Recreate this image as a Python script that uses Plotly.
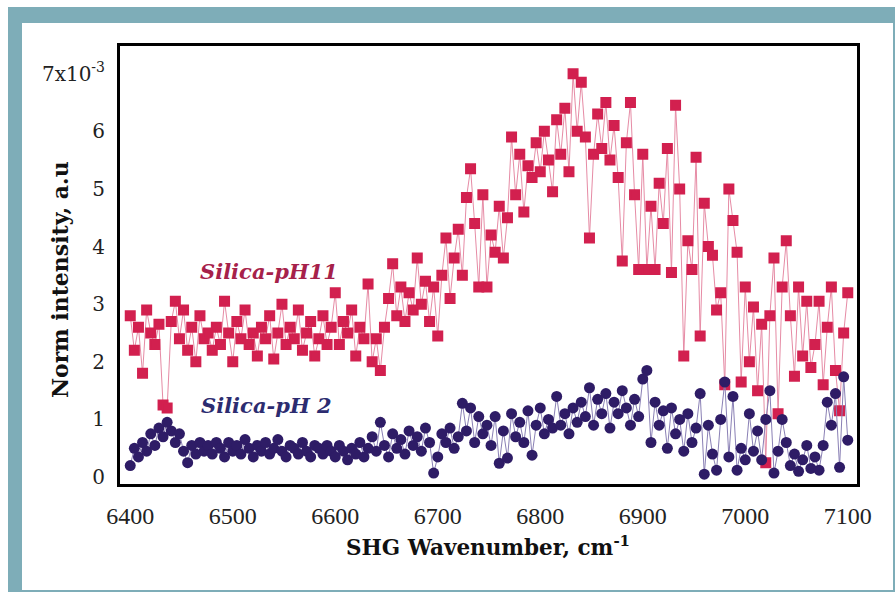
import plotly.graph_objects as go

# ---------------- data ----------------
wavenumber = list(range(6400, 7101, 4))

silica_ph11 = [
    2.8, 2.2, 2.6, 1.8, 2.9, 2.5, 2.3, 2.65, 1.25, 1.2,
    2.7, 3.05, 2.4, 2.9, 2.2, 2.6, 2.0, 2.8, 2.4, 2.5,
    2.2, 2.6, 2.3, 3.05, 2.5, 2.0, 2.7, 2.4, 2.9, 2.3,
    2.5, 2.1, 2.6, 2.4, 2.8, 2.05, 2.5, 3.0, 2.3, 2.6,
    2.4, 2.9, 2.2, 2.5, 2.7, 2.1, 2.4, 2.8, 2.3, 2.6,
    3.2, 2.3, 2.7, 2.5, 2.9, 2.1, 2.6, 2.4, 3.35, 2.0,
    2.4, 1.85, 2.6, 3.1, 3.7, 2.8, 3.3, 2.7, 3.2, 2.9,
    3.8, 3.0, 3.4, 2.7, 3.3, 2.45, 3.5, 4.15, 3.1, 3.8,
    4.3, 3.5, 4.85, 5.35, 4.4, 3.3, 4.9, 3.3, 4.2, 3.9,
    4.7, 3.8, 4.5, 5.9, 4.9, 5.6, 4.6, 5.4, 5.2, 5.8,
    5.3, 6.0, 5.5, 4.95, 6.2, 5.6, 6.4, 5.3, 7.0, 6.0,
    6.85, 5.9, 4.15, 5.6, 6.3, 5.7, 6.5, 5.5, 6.1, 5.2,
    3.75, 5.8, 6.5, 4.9, 3.6, 5.6, 3.6, 4.7, 3.6, 5.1,
    4.4, 5.7, 3.55, 6.45, 5.0, 2.1, 4.1, 3.6, 5.55, 2.45,
    4.75, 4.0, 3.85, 2.9, 3.2, 1.6, 5.0, 4.45, 3.9, 1.65,
    3.3, 2.0, 2.95, 1.5, 2.65, 0.25, 2.8, 3.8, 1.1, 3.3,
    4.1, 2.8, 1.75, 3.3, 2.1, 3.05, 1.9, 2.3, 3.05, 1.6,
    2.6, 3.3, 1.85, 1.15, 2.5, 3.2,
]

silica_ph2 = [
    0.2, 0.5, 0.35, 0.6, 0.45, 0.75, 0.55, 0.85, 0.7, 0.95,
    0.8, 0.6, 0.75, 0.45, 0.25, 0.55, 0.4, 0.6, 0.45, 0.55,
    0.4, 0.6, 0.5, 0.35, 0.6, 0.45, 0.55, 0.4, 0.65, 0.5,
    0.35, 0.55, 0.45, 0.6, 0.4, 0.5, 0.65, 0.45, 0.35, 0.55,
    0.5, 0.4, 0.6, 0.45, 0.35, 0.55, 0.5, 0.4, 0.55, 0.45,
    0.35, 0.55, 0.45, 0.3, 0.5, 0.4, 0.6, 0.35, 0.5, 0.7,
    0.45, 0.95, 0.55, 0.35, 0.75, 0.5, 0.65, 0.4, 0.8, 0.55,
    0.7, 0.45, 0.85, 0.6, 0.07, 0.35, 0.75, 0.6, 0.85, 0.5,
    0.7, 1.28, 0.8, 1.2, 0.6, 1.05, 0.75, 0.9, 0.55, 1.05,
    0.24, 0.8, 0.33, 1.1, 0.7, 0.95, 0.6, 1.15, 0.38, 0.9,
    1.2, 0.75, 1.0, 0.85, 1.4, 0.9, 1.1, 0.75, 1.2, 0.95,
    1.3, 1.05, 1.55, 0.9, 1.35, 1.1, 1.45, 0.85, 1.3, 1.1,
    1.5, 1.2, 0.9, 1.35, 1.05, 1.7, 1.85, 0.6, 1.3, 0.9,
    1.15, 0.5, 1.2, 0.75, 1.0, 0.45, 1.1, 0.6, 0.85, 1.45,
    0.05, 0.9, 0.4, 0.12, 1.0, 1.65, 0.35, 1.4, 0.12, 0.5,
    0.3, 1.1, 0.45, 0.8, 0.3, 1.0, 1.5, 0.07, 0.45, 1.0,
    0.6, 0.2, 0.4, 0.1, 0.3, 0.55, 0.15, 0.35, 0.12, 0.55,
    1.3, 0.9, 1.45, 0.17, 1.74, 0.64,
]

y_tick_values = [0, 1, 2, 3, 4, 5, 6, 7]
y_tick_labels = ["0", "1", "2", "3", "4", "5", "6", "7x10<sup>-3</sup>"]
x_tick_values = [6400, 6500, 6600, 6700, 6800, 6900, 7000, 7100]

# ---------------- layout constants ----------------
W, H = 895, 592
ML, MR, MT, MB = 120, 38, 46, 108
PW, PH = W - ML - MR, H - MT - MB


def px_x(p):
    return (p - ML) / PW


def px_y(p):
    return (H - MB - p) / PH


TEAL = "#7EADB8"

fig = go.Figure()

fig.add_trace(go.Scatter(
    x=wavenumber, y=silica_ph11, mode="lines+markers",
    line=dict(color="#E68BA5", width=1),
    marker=dict(symbol="square", size=9, color="#D2204F",
                line=dict(color="#D2204F", width=2)),
    showlegend=False, cliponaxis=True,
))
fig.add_trace(go.Scatter(
    x=wavenumber, y=silica_ph2, mode="lines+markers",
    line=dict(color="#8A80B5", width=1),
    marker=dict(symbol="circle", size=11, color="#2E1C66"),
    showlegend=False, cliponaxis=True,
))

fig.add_annotation(x=6535, y=3.56, text="<b><i>Silica-pH11</i></b>",
                   showarrow=False,
                   font=dict(family="DejaVu Serif", size=21, color="#A6214A"))
fig.add_annotation(x=6533, y=1.25, text="<b><i>Silica-pH 2</i></b>",
                   showarrow=False,
                   font=dict(family="DejaVu Serif", size=21, color="#2C2C70"))

# axis titles placed as annotations
fig.add_annotation(xref="paper", yref="paper", x=px_x(60), y=px_y(280),
                   text="<b>Norm intensity, a.u</b>", textangle=-90,
                   showarrow=False, xanchor="center", yanchor="middle",
                   font=dict(family="DejaVu Serif", size=22, color="#111"))
fig.add_annotation(xref="paper", yref="paper", x=px_x(488), y=px_y(546),
                   text="<b>SHG Wavenumber, cm<sup>-1</sup></b>",
                   showarrow=False, xanchor="center", yanchor="middle",
                   font=dict(family="DejaVu Serif", size=21.5, color="#111"))

# teal page frame
shapes = []
for (x0, y0, x1, y1) in [(8, 7, W, 23), (8, 7, 22, H), (8, 590, W, H), (893, 7, W, H)]:
    shapes.append(dict(type="rect", xref="paper", yref="paper",
                       x0=px_x(x0), x1=px_x(x1), y0=px_y(y1), y1=px_y(y0),
                       fillcolor=TEAL, line=dict(width=0), layer="below"))

fig.update_layout(
    width=W, height=H,
    margin=dict(l=ML, r=MR, t=MT, b=MB, autoexpand=False),
    paper_bgcolor="white", plot_bgcolor="white",
    shapes=shapes,
    xaxis=dict(
        range=[6390, 7109], tickvals=x_tick_values,
        showgrid=False, zeroline=False, automargin=False,
        showline=True, mirror=True, linecolor="black", linewidth=3,
        ticks="", ticklabelstandoff=8,
        tickfont=dict(family="Liberation Serif", size=24, color="#222"),
    ),
    yaxis=dict(
        range=[-0.12, 7.48], tickvals=y_tick_values, ticktext=y_tick_labels,
        showgrid=False, zeroline=False, automargin=False,
        showline=True, mirror=True, linecolor="black", linewidth=3,
        ticks="", ticklabelstandoff=8,
        tickfont=dict(family="DejaVu Serif", size=20, color="#222"),
    ),
)

fig.write_html(
    "out.html",
    config={"displayModeBar": False},
    post_script="document.body.style.margin='0';document.body.style.overflow='hidden';",
)
